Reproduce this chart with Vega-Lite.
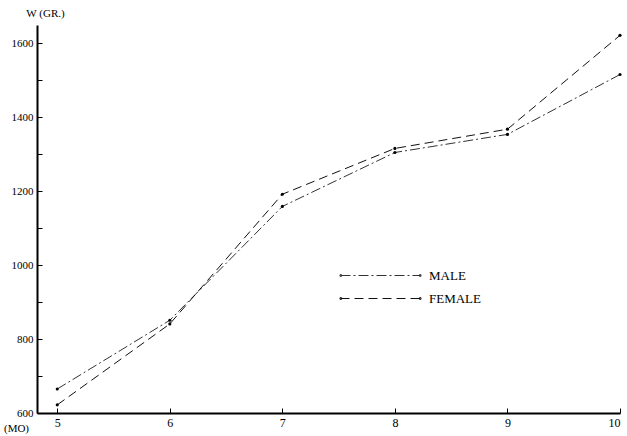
{
  "$schema": "https://vega.github.io/schema/vega-lite/v6.json",
  "width": 583,
  "height": 388,
  "autosize": {"type": "none"},
  "padding": {"left": 37, "top": 25, "right": 7, "bottom": 23},
  "background": "white",
  "config": {
    "view": {"stroke": null},
    "font": "Liberation Serif",
    "axis": {"labelFont": "Liberation Serif", "titleFont": "Liberation Serif", "domainColor": "black", "tickColor": "black", "labelColor": "black", "titleColor": "black", "grid": false}
  },
  "data": {
    "values": [
      {"age": 5, "sex": "MALE", "w": 665},
      {"age": 6, "sex": "MALE", "w": 851},
      {"age": 7, "sex": "MALE", "w": 1159},
      {"age": 8, "sex": "MALE", "w": 1305},
      {"age": 9, "sex": "MALE", "w": 1354},
      {"age": 10, "sex": "MALE", "w": 1516},
      {"age": 5, "sex": "FEMALE", "w": 622},
      {"age": 6, "sex": "FEMALE", "w": 841},
      {"age": 7, "sex": "FEMALE", "w": 1192},
      {"age": 8, "sex": "FEMALE", "w": 1316},
      {"age": 9, "sex": "FEMALE", "w": 1368},
      {"age": 10, "sex": "FEMALE", "w": 1622}
    ]
  },
  "encoding": {
    "x": {
      "field": "age", "type": "quantitative",
      "scale": {"domain": [4.82, 10], "nice": false, "zero": false},
      "axis": {
        "values": [5, 6, 7, 8, 9, 10],
        "title": "(MO)", "titleAngle": 0, "titleX": -21, "titleY": 15, "titleAlign": "center", "titleBaseline": "middle",
        "titleFontSize": 11, "titleFontWeight": "normal",
        "tickSize": -5, "tickWidth": 1, "domainWidth": 2, "labelPadding": 9, "labelFontSize": 12
      }
    },
    "y": {
      "field": "w", "type": "quantitative",
      "scale": {"domain": [600, 1650], "nice": false, "zero": false},
      "axis": {
        "values": [600, 700, 800, 900, 1000, 1100, 1200, 1300, 1400, 1500, 1600],
        "labelExpr": "datum.value % 200 == 0 ? datum.label : ''",
        "format": "d",
        "title": "W (GR.)", "titleAngle": 0, "titleX": 8, "titleY": -12, "titleAlign": "center", "titleBaseline": "middle",
        "titleFontSize": 11, "titleFontWeight": "normal",
        "tickSize": -5, "tickWidth": 1, "domainWidth": 2, "labelPadding": 9, "labelFontSize": 11
      }
    }
  },
  "layer": [
    {
      "mark": {"type": "line", "strokeWidth": 1},
      "encoding": {
        "color": {
          "field": "sex", "type": "nominal",
          "scale": {"domain": ["MALE", "FEMALE"], "range": ["#333333", "#111111"]},
          "legend": {
            "title": null, "orient": "none", "legendX": 333, "legendY": 240,
            "symbolType": "M-4.05,-0.08h0.16v0.16h-0.16zM3.89,-0.08h0.16v0.16h-0.16zM-4,0H4", "symbolSize": 400, "symbolStrokeWidth": 1,
            "labelFontSize": 13, "labelFont": "Liberation Serif", "labelColor": "black",
            "rowPadding": 5, "labelOffset": 38
          }
        },
        "strokeDash": {
          "field": "sex", "type": "nominal",
          "scale": {"domain": ["MALE", "FEMALE"], "range": [[10, 3, 2, 3], [9, 5]]},
          "legend": {
            "title": null, "orient": "none", "legendX": 333, "legendY": 240,
            "symbolType": "M-4.05,-0.08h0.16v0.16h-0.16zM3.89,-0.08h0.16v0.16h-0.16zM-4,0H4", "symbolSize": 400, "symbolStrokeWidth": 1,
            "labelFontSize": 13, "labelFont": "Liberation Serif", "labelColor": "black",
            "rowPadding": 5, "labelOffset": 38
          }
        }
      }
    },
    {
      "mark": {"type": "point", "filled": true, "color": "black", "size": 10, "opacity": 1}
    }
  ]
}
